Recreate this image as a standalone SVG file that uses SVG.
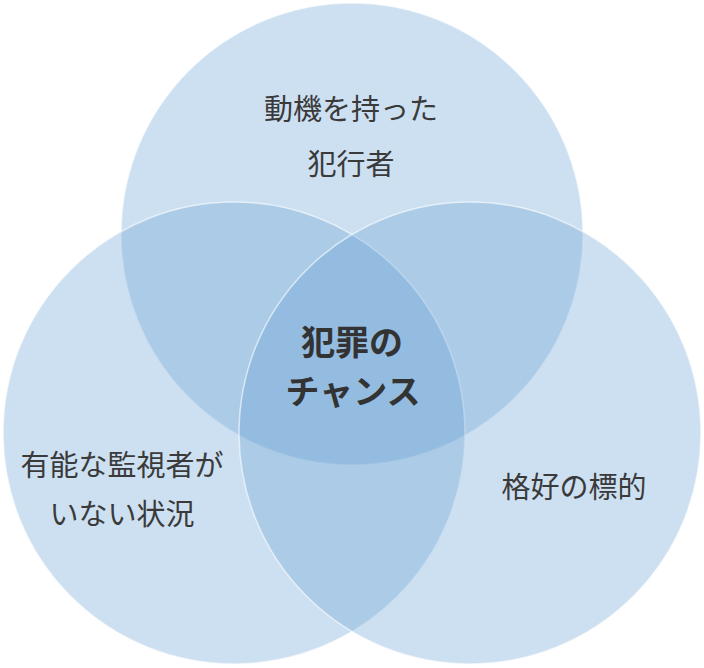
<svg xmlns="http://www.w3.org/2000/svg" width="704" height="668" viewBox="0 0 704 668">
<style>
.c{fill:rgb(99,158,211);fill-opacity:0.32;stroke:#ffffff;stroke-opacity:0.6;stroke-width:1.5}
.t{font-family:"Noto Sans CJK JP","Noto Sans",sans-serif;font-size:29px;fill:#3a3a3a;text-anchor:middle}
.b{font-family:"Noto Sans CJK JP","Noto Sans",sans-serif;font-size:34px;font-weight:bold;fill:#333333;text-anchor:middle}
</style>
<rect width="704" height="668" fill="#ffffff"/>
<g id="top">
<circle class="c" cx="352" cy="234" r="231"/>
<text class="t" x="351" y="120">動機を持った</text>
<text class="t" x="351" y="175">犯行者</text>
</g>
<g id="left">
<circle class="c" cx="234" cy="433" r="231"/>
<text class="t" x="122" y="476">有能な監視者が</text>
<text class="t" x="122" y="525">いない状況</text>
</g>
<g id="right">
<circle class="c" cx="470" cy="433" r="231"/>
<text class="t" x="574" y="498">格好の標的</text>
</g>
<g id="center">
<text class="b" x="352" y="355">犯罪の</text>
<text class="b" x="353" y="404">チャンス</text>
</g>
<g id="connectors"/>
</svg>
